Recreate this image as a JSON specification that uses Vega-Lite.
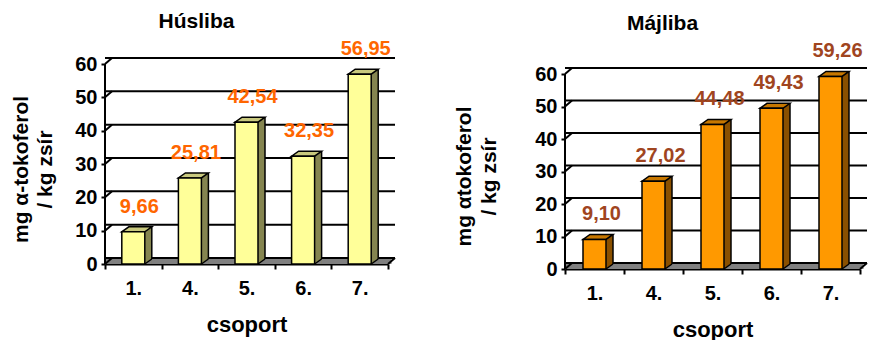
{
  "$schema": "https://vega.github.io/schema/vega-lite/v6.json",
  "background": "white",
  "padding": {"left": 9, "top": 11, "right": 0, "bottom": 0},
  "bounds": "flush",
  "spacing": 177,
  "datasets": {
    "hus": [
      {"g": "1.", "v": 9.66},
      {"g": "4.", "v": 25.81},
      {"g": "5.", "v": 42.54},
      {"g": "6.", "v": 32.35},
      {"g": "7.", "v": 56.95}
    ],
    "maj": [
      {"g": "1.", "v": 9.10},
      {"g": "4.", "v": 27.02},
      {"g": "5.", "v": 44.48},
      {"g": "6.", "v": 49.43},
      {"g": "7.", "v": 59.26}
    ],
    "ticks": [{"t": 0}, {"t": 10}, {"t": 20}, {"t": 30}, {"t": 40}, {"t": 50}, {"t": 60}],
    "base": [{"t": 0}]
  },
  "hconcat": [
    {
      "width": 283,
      "height": 200,
      "title": {"text": "Húsliba", "frame": "group", "anchor": "middle", "dx": -50, "offset": -10, "baseline": "alphabetic", "fontSize": 21, "font": "Liberation Sans", "fontWeight": "bold", "color": "black"},
      "layer": [
        {
          "data": {"name": "base"},
          "mark": {"type": "rect", "fill": "#808080", "xOffset": 3.5, "x2Offset": 3.5, "yOffset": -6},
          "encoding": {
            "y": {"datum": 0, "type": "quantitative", "scale": {"domain": [0, 60], "nice": false}},
            "y2": {"datum": 0}
          }
        },
        {
          "data": {"name": "ticks"},
          "mark": {"type": "rule", "stroke": "black", "strokeWidth": 2, "xOffset": 7, "x2Offset": 7, "yOffset": -6},
          "encoding": {
            "y": {"field": "t", "type": "quantitative", "scale": {"domain": [0, 60], "nice": false}}
          }
        },
        {
          "data": {"name": "ticks"},
          "mark": {"type": "point", "shape": "M0 0 L7 -6", "size": 4, "filled": false, "stroke": "black", "strokeWidth": 2, "opacity": 1},
          "encoding": {
            "x": {"datum": "1.", "type": "nominal", "bandPosition": 0, "scale": {"type": "band", "paddingInner": 0, "paddingOuter": 0}},
            "y": {"field": "t", "type": "quantitative", "scale": {"domain": [0, 60], "nice": false}}
          }
        },
        {
          "data": {"name": "base"},
          "mark": {"type": "point", "shape": "M0 0 L7 -6", "size": 4, "filled": false, "stroke": "black", "strokeWidth": 2, "opacity": 1},
          "encoding": {
            "x": {"datum": "7.", "type": "nominal", "bandPosition": 1, "scale": {"type": "band", "paddingInner": 0, "paddingOuter": 0}},
            "y": {"field": "t", "type": "quantitative", "scale": {"domain": [0, 60], "nice": false}}
          }
        },
        {
          "data": {"name": "base"},
          "mark": {"type": "rule", "stroke": "black", "strokeWidth": 2},
          "encoding": {
            "x": {"datum": "1.", "type": "nominal", "bandPosition": 0, "scale": {"type": "band", "paddingInner": 0, "paddingOuter": 0}},
            "y": {"datum": 0, "type": "quantitative", "scale": {"domain": [0, 60], "nice": false}},
            "y2": {"datum": 60}
          }
        },
        {
          "data": {"name": "hus"},
          "mark": {"type": "bar", "width": 7, "xOffset": 15, "yOffset": -5, "fill": "#858550", "strokeWidth": 0},
          "encoding": {
            "x": {"field": "g", "type": "nominal", "scale": {"type": "band", "paddingInner": 0, "paddingOuter": 0}},
            "y": {"field": "v", "type": "quantitative", "scale": {"domain": [0, 60], "nice": false}},
            "y2": {"datum": 0}
          }
        },
        {
          "data": {"name": "hus"},
          "mark": {"type": "point", "shape": "M11.5 0 L18.5 0 L18.5 -5 Z", "size": 4, "filled": true, "fill": "#808080", "strokeWidth": 0, "opacity": 1},
          "encoding": {
            "x": {"field": "g", "type": "nominal", "scale": {"type": "band", "paddingInner": 0, "paddingOuter": 0}},
            "y": {"datum": 0, "type": "quantitative", "scale": {"domain": [0, 60], "nice": false}}
          }
        },
        {
          "data": {"name": "hus"},
          "mark": {"type": "rule", "stroke": "black", "strokeWidth": 1.5, "xOffset": 18.5, "yOffset": -5, "y2Offset": -5},
          "encoding": {
            "x": {"field": "g", "type": "nominal", "scale": {"type": "band", "paddingInner": 0, "paddingOuter": 0}},
            "y": {"field": "v", "type": "quantitative", "scale": {"domain": [0, 60], "nice": false}},
            "y2": {"datum": 0}
          }
        },
        {
          "data": {"name": "hus"},
          "mark": {"type": "point", "shape": "M11.5 0 L18.5 -5", "size": 4, "filled": false, "stroke": "black", "strokeWidth": 1.5, "opacity": 1},
          "encoding": {
            "x": {"field": "g", "type": "nominal", "scale": {"type": "band", "paddingInner": 0, "paddingOuter": 0}},
            "y": {"datum": 0, "type": "quantitative", "scale": {"domain": [0, 60], "nice": false}}
          }
        },
        {
          "data": {"name": "hus"},
          "mark": {"type": "point", "shape": "M-11.5 0 L11.5 0 L18.5 -5 L-4.5 -5 Z", "size": 4, "filled": true, "fill": "#C9C97E", "stroke": "black", "strokeWidth": 1.5, "opacity": 1},
          "encoding": {
            "x": {"field": "g", "type": "nominal", "scale": {"type": "band", "paddingInner": 0, "paddingOuter": 0}},
            "y": {"field": "v", "type": "quantitative", "scale": {"domain": [0, 60], "nice": false}}
          }
        },
        {
          "data": {"name": "hus"},
          "mark": {"type": "bar", "width": 23, "fill": "#FFFF99", "stroke": "black", "strokeWidth": 1.5},
          "encoding": {
            "x": {
              "field": "g", "type": "nominal",
              "scale": {"type": "band", "paddingInner": 0, "paddingOuter": 0},
              "axis": {"title": "csoport", "tickBand": "extent", "titleY": 67, "titleBaseline": "alphabetic"}
            },
            "y": {
              "field": "v", "type": "quantitative",
              "scale": {"domain": [0, 60], "nice": false},
              "axis": {"values": [0, 10, 20, 30, 40, 50, 60], "title": ["mg α-tokoferol", "/ kg zsír"], "titleX": -78, "titleY": 105, "titleLineHeight": 24}
            },
            "y2": {"datum": 0}
          }
        },
        {
          "data": {"name": "hus"},
          "mark": {"type": "text", "dx": 6, "dy": -19, "baseline": "alphabetic", "align": "center", "fontSize": 20, "font": "Liberation Sans", "fontWeight": "bold", "fill": "#FF6600"},
          "encoding": {
            "x": {"field": "g", "type": "nominal", "scale": {"type": "band", "paddingInner": 0, "paddingOuter": 0}},
            "y": {"field": "v", "type": "quantitative", "scale": {"domain": [0, 60], "nice": false}},
            "text": {"field": "v", "type": "quantitative", "format": ".2f"}
          }
        }
      ]
    },
    {
      "width": 295,
      "height": 205,
      "title": {"text": "Májliba", "frame": "group", "anchor": "middle", "dx": -50, "offset": -10, "baseline": "alphabetic", "fontSize": 21, "font": "Liberation Sans", "fontWeight": "bold", "color": "black"},
      "layer": [
        {
          "data": {"name": "base"},
          "mark": {"type": "rect", "fill": "#808080", "xOffset": 3.5, "x2Offset": 3.5, "yOffset": -6},
          "encoding": {
            "y": {"datum": 0, "type": "quantitative", "scale": {"domain": [0, 63.08], "nice": false}},
            "y2": {"datum": 0}
          }
        },
        {
          "data": {"name": "ticks"},
          "mark": {"type": "rule", "stroke": "black", "strokeWidth": 2, "xOffset": 7, "x2Offset": 7, "yOffset": -6},
          "encoding": {
            "y": {"field": "t", "type": "quantitative", "scale": {"domain": [0, 63.08], "nice": false}}
          }
        },
        {
          "data": {"name": "ticks"},
          "mark": {"type": "point", "shape": "M0 0 L7 -6", "size": 4, "filled": false, "stroke": "black", "strokeWidth": 2, "opacity": 1},
          "encoding": {
            "x": {"datum": "1.", "type": "nominal", "bandPosition": 0, "scale": {"type": "band", "paddingInner": 0, "paddingOuter": 0}},
            "y": {"field": "t", "type": "quantitative", "scale": {"domain": [0, 63.08], "nice": false}}
          }
        },
        {
          "data": {"name": "base"},
          "mark": {"type": "point", "shape": "M0 0 L7 -6", "size": 4, "filled": false, "stroke": "black", "strokeWidth": 2, "opacity": 1},
          "encoding": {
            "x": {"datum": "7.", "type": "nominal", "bandPosition": 1, "scale": {"type": "band", "paddingInner": 0, "paddingOuter": 0}},
            "y": {"field": "t", "type": "quantitative", "scale": {"domain": [0, 63.08], "nice": false}}
          }
        },
        {
          "data": {"name": "base"},
          "mark": {"type": "rule", "stroke": "black", "strokeWidth": 2},
          "encoding": {
            "x": {"datum": "1.", "type": "nominal", "bandPosition": 0, "scale": {"type": "band", "paddingInner": 0, "paddingOuter": 0}},
            "y": {"datum": 0, "type": "quantitative", "scale": {"domain": [0, 63.08], "nice": false}},
            "y2": {"datum": 60}
          }
        },
        {
          "data": {"name": "maj"},
          "mark": {"type": "bar", "width": 7, "xOffset": 15, "yOffset": -5, "fill": "#8A5000", "strokeWidth": 0},
          "encoding": {
            "x": {"field": "g", "type": "nominal", "scale": {"type": "band", "paddingInner": 0, "paddingOuter": 0}},
            "y": {"field": "v", "type": "quantitative", "scale": {"domain": [0, 63.08], "nice": false}},
            "y2": {"datum": 0}
          }
        },
        {
          "data": {"name": "maj"},
          "mark": {"type": "point", "shape": "M11.5 0 L18.5 0 L18.5 -5 Z", "size": 4, "filled": true, "fill": "#808080", "strokeWidth": 0, "opacity": 1},
          "encoding": {
            "x": {"field": "g", "type": "nominal", "scale": {"type": "band", "paddingInner": 0, "paddingOuter": 0}},
            "y": {"datum": 0, "type": "quantitative", "scale": {"domain": [0, 63.08], "nice": false}}
          }
        },
        {
          "data": {"name": "maj"},
          "mark": {"type": "rule", "stroke": "black", "strokeWidth": 1.5, "xOffset": 18.5, "yOffset": -5, "y2Offset": -5},
          "encoding": {
            "x": {"field": "g", "type": "nominal", "scale": {"type": "band", "paddingInner": 0, "paddingOuter": 0}},
            "y": {"field": "v", "type": "quantitative", "scale": {"domain": [0, 63.08], "nice": false}},
            "y2": {"datum": 0}
          }
        },
        {
          "data": {"name": "maj"},
          "mark": {"type": "point", "shape": "M11.5 0 L18.5 -5", "size": 4, "filled": false, "stroke": "black", "strokeWidth": 1.5, "opacity": 1},
          "encoding": {
            "x": {"field": "g", "type": "nominal", "scale": {"type": "band", "paddingInner": 0, "paddingOuter": 0}},
            "y": {"datum": 0, "type": "quantitative", "scale": {"domain": [0, 63.08], "nice": false}}
          }
        },
        {
          "data": {"name": "maj"},
          "mark": {"type": "point", "shape": "M-11.5 0 L11.5 0 L18.5 -5 L-4.5 -5 Z", "size": 4, "filled": true, "fill": "#C77700", "stroke": "black", "strokeWidth": 1.5, "opacity": 1},
          "encoding": {
            "x": {"field": "g", "type": "nominal", "scale": {"type": "band", "paddingInner": 0, "paddingOuter": 0}},
            "y": {"field": "v", "type": "quantitative", "scale": {"domain": [0, 63.08], "nice": false}}
          }
        },
        {
          "data": {"name": "maj"},
          "mark": {"type": "bar", "width": 23, "fill": "#FF9900", "stroke": "black", "strokeWidth": 1.5},
          "encoding": {
            "x": {
              "field": "g", "type": "nominal",
              "scale": {"type": "band", "paddingInner": 0, "paddingOuter": 0},
              "axis": {"title": "csoport", "tickBand": "extent", "titleY": 67, "titleBaseline": "alphabetic"}
            },
            "y": {
              "field": "v", "type": "quantitative",
              "scale": {"domain": [0, 63.08], "nice": false},
              "axis": {"values": [0, 10, 20, 30, 40, 50, 60], "title": ["mg αtokoferol", "/ kg zsír"], "titleX": -95, "titleY": 112, "titleLineHeight": 25}
            },
            "y2": {"datum": 0}
          }
        },
        {
          "data": {"name": "maj"},
          "mark": {"type": "text", "dx": 7, "dy": -19, "baseline": "alphabetic", "align": "center", "fontSize": 20, "font": "Liberation Sans", "fontWeight": "bold", "fill": "#A0451F"},
          "encoding": {
            "x": {"field": "g", "type": "nominal", "scale": {"type": "band", "paddingInner": 0, "paddingOuter": 0}},
            "y": {"field": "v", "type": "quantitative", "scale": {"domain": [0, 63.08], "nice": false}},
            "text": {"field": "v", "type": "quantitative", "format": ".2f"}
          }
        }
      ]
    }
  ],
  "config": {
    "view": {"stroke": null},
    "font": "Liberation Sans",
    "locale": {"number": {"decimal": ",", "thousands": " ", "grouping": [3], "currency": ["", ""]}},
    "axis": {
      "domainColor": "black",
      "domainWidth": 2,
      "tickColor": "black",
      "tickWidth": 2,
      "labelFont": "Liberation Sans",
      "labelFontWeight": "bold",
      "labelFontSize": 20,
      "labelColor": "black",
      "titleFont": "Liberation Sans",
      "titleFontWeight": "bold",
      "titleColor": "black",
      "grid": false
    },
    "axisX": {"tickSize": 5, "labelPadding": 9, "labelAngle": 0, "zindex": 1, "titleFontSize": 22},
    "axisY": {"domain": false, "tickSize": 4, "labelPadding": 4, "tickCount": 7, "labelOverlap": false, "titleFontSize": 21, "titleAngle": -90, "titleAlign": "center", "titleBaseline": "alphabetic"}
  }
}
